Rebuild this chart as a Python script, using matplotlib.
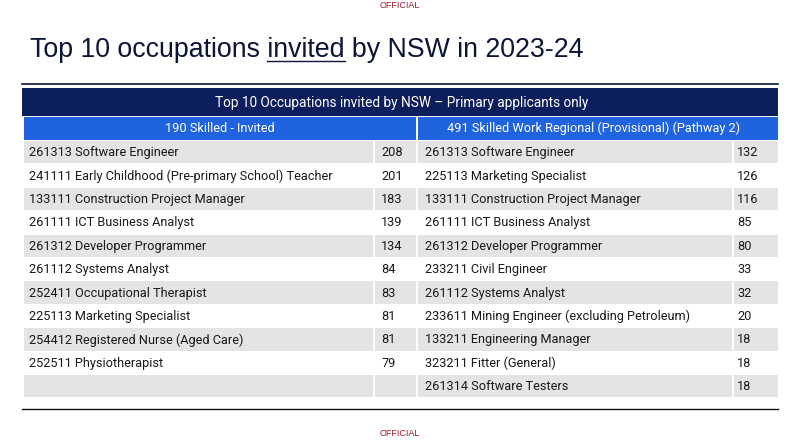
import matplotlib.pyplot as plt
from matplotlib.patches import Rectangle

# table data
left_header = '190 Skilled - Invited'
right_header = '491 Skilled Work Regional (Provisional) (Pathway 2)'
left_occ = ['261313 Software Engineer',
            '241111 Early Childhood (Pre-primary School) Teacher',
            '133111 Construction Project Manager',
            '261111 ICT Business Analyst',
            '261312 Developer Programmer',
            '261112 Systems Analyst',
            '252411 Occupational Therapist',
            '225113 Marketing Specialist',
            '254412 Registered Nurse (Aged Care)',
            '252511 Physiotherapist']
left_vals = [208, 201, 183, 139, 134, 84, 83, 81, 81, 79]
right_occ = ['261313 Software Engineer',
             '225113 Marketing Specialist',
             '133111 Construction Project Manager',
             '261111 ICT Business Analyst',
             '261312 Developer Programmer',
             '233211 Civil Engineer',
             '261112 Systems Analyst',
             '233611 Mining Engineer (excluding Petroleum)',
             '133211 Engineering Manager',
             '323211 Fitter (General)',
             '261314 Software Testers']
right_vals = [132, 126, 116, 85, 80, 33, 32, 20, 18, 18, 18]

NAVY = '#0c1f5c'
BLUE = '#1f63df'
GREY = '#e4e4e4'
TXT = '#1a1a1a'
ROW_FS = 9.2

fig = plt.figure(figsize=(8.02, 4.46), dpi=100)
ax = fig.add_axes([0, 0, 1, 1])
ax.set_xlim(0, 802)
ax.set_ylim(446, 0)
ax.axis('off')

for y in (6, 433):
    ax.text(400, y, 'OFFICIAL', color='#a0182a', fontsize=6.5,
            ha='center', va='center', family='Liberation Sans')

# title, with "invited" underlined
tfont = dict(fontsize=19.3, color='#0b1535', family='Liberation Sans', va='center')
x0, ty = 30, 50
ax.text(x0, ty, 'Top 10 occupations invited by NSW in 2023-24', **tfont)
r = fig.canvas.get_renderer()
m1 = ax.text(x0, ty, 'Top 10 occupations invited', alpha=0, **tfont)
m2 = ax.text(x0, ty, 'invited', alpha=0, **tfont)
w_pre = m1.get_window_extent(r).width
w_inv = m2.get_window_extent(r).width
m1.remove()
m2.remove()
ax.plot([x0 + w_pre - w_inv, x0 + w_pre], [ty + 11, ty + 11], color='#0b1535', lw=1)

ax.plot([22, 778], [84, 84], color='#0b1535', lw=1.2)
ax.add_patch(Rectangle((22, 88), 756, 28, color=NAVY, lw=0))
ax.text(402, 102.5, 'Top 10 Occupations invited by NSW \u2013 Primary applicants only',
        color='white', fontsize=9.8, ha='center', va='center', family='Roboto')

ax.add_patch(Rectangle((24, 117), 392, 23, color=BLUE, lw=0))
ax.add_patch(Rectangle((418, 117), 360, 23, color=BLUE, lw=0))
ax.text(220, 128.5, left_header, color='white', fontsize=ROW_FS, ha='center', va='center', family='Roboto')
ax.text(594, 128.5, right_header, color='white', fontsize=ROW_FS, ha='center', va='center', family='Roboto')

row_h = 23.4
top = 141
n_rows = max(len(left_occ), len(right_occ))
for i in range(n_rows):
    y = top + i * row_h
    fc = GREY if i % 2 == 0 else 'white'
    for (cx, cw) in [(24, 349), (375, 41), (418, 314), (734, 44)]:
        ax.add_patch(Rectangle((cx, y), cw, row_h - 1, color=fc, lw=0))
    yc = y + row_h / 2
    if i < len(left_occ):
        ax.text(29, yc, left_occ[i], color=TXT, fontsize=ROW_FS, va='center', family='Roboto')
        ax.text(381, yc, str(left_vals[i]), color=TXT, fontsize=ROW_FS, va='center', family='Roboto')
    if i < len(right_occ):
        ax.text(425, yc, right_occ[i], color=TXT, fontsize=ROW_FS, va='center', family='Roboto')
        ax.text(737, yc, str(right_vals[i]), color=TXT, fontsize=ROW_FS, va='center', family='Roboto')

ax.plot([22, 778], [409, 409], color='#111111', lw=1)

fig.savefig('out.png', dpi=100)
